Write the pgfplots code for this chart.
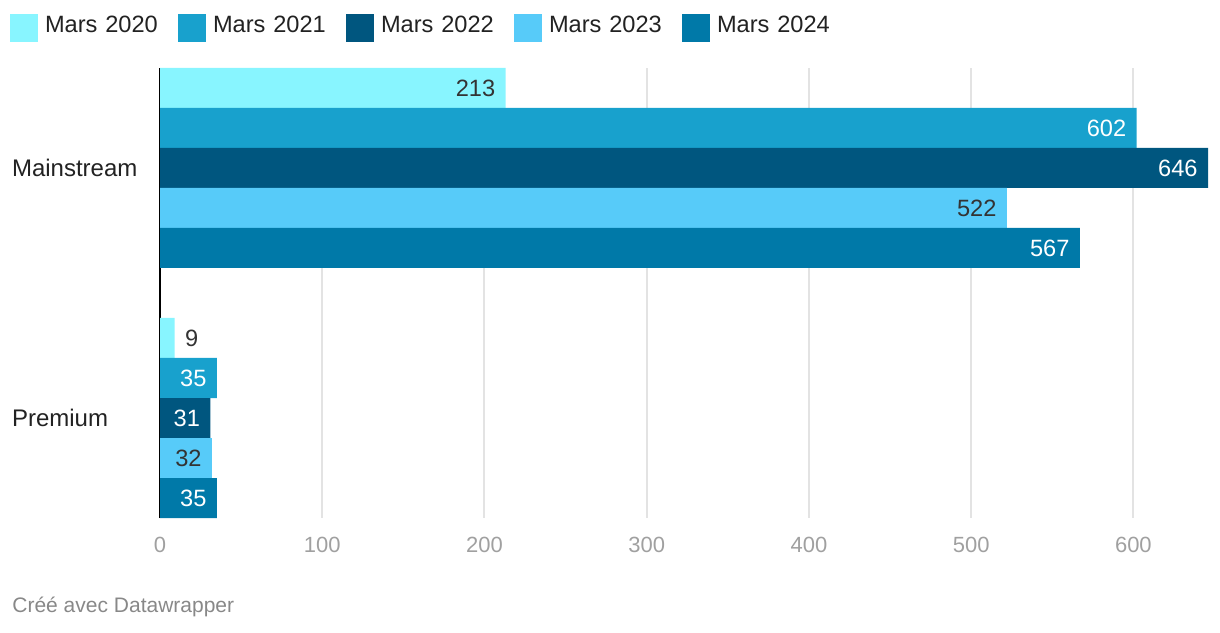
\documentclass[border=0pt]{standalone}
\usepackage{pgfplots}
\pgfplotsset{compat=1.18}
\usepackage{fontspec}
\setmainfont{Liberation Sans}

\definecolor{c20}{HTML}{88F5FF}
\definecolor{c21}{HTML}{18A1CD}
\definecolor{c22}{HTML}{00567F}
\definecolor{c23}{HTML}{57CBF9}
\definecolor{c24}{HTML}{0079A8}
\definecolor{txt}{HTML}{222222}
\definecolor{lbl}{HTML}{333333}
\definecolor{tickc}{HTML}{A0A0A0}
\definecolor{gridc}{HTML}{E3E3E3}
\definecolor{foot}{HTML}{888888}

\newcommand{\fnt}{\fontsize{11.8}{14}\selectfont}

\begin{document}
\begin{tikzpicture}
\begin{axis}[
  at={(80pt,57pt)}, anchor=south west,
  scale only axis, width=524pt, height=225pt,
  xbar=0pt, bar width=20pt,
  xmin=0, xmax=646, ymin=-0.4, ymax=1.4,
  ytick={0,1}, yticklabels={Premium,Mainstream},
  xtick={0,100,...,600},
  axis lines*=left,
  x axis line style={draw=none},
  y axis line style={black, line width=1pt},
  major tick length=0pt,
  xmajorgrids, grid style={draw=gridc, line width=1pt},
  /pgf/number format/assume math mode=true,
  xticklabel style={font=\fontsize{11}{13}\selectfont, text=tickc, anchor=center, yshift=-13.5pt},
  yticklabel style={font=\fontsize{12}{14}\selectfont, text=txt, anchor=west, xshift=-77.5pt},
  nodes near coords,
  nodes near coords style={font=\fnt, anchor=east, xshift=-5pt, inner sep=0pt},
  every axis plot post/.append style={
    legend image code/.code={\fill[##1] (0pt,-8pt) rectangle (14pt,6pt);}},
  legend columns=5,
  legend style={at={(-0.1431,1.0889)}, anchor=west, draw=none, fill=none,
    inner sep=0pt, outer sep=0pt, font=\fnt, text=txt,
    nodes={inner sep=0pt, text width=66.5pt, align=left},
    /tikz/every odd column/.append style={column sep=3.5pt}},
  legend cell align=left,
]
% Mars 2020
\addplot[fill=c20, draw=none, bar shift=40pt,
  nodes near coords style={text=lbl, anchor=\anc, xshift=\dx pt},
  visualization depends on={value \thisrow{anc} \as \anc},
  visualization depends on={\thisrow{dx} \as \dx}]
  table[x=v, y=c, meta=v] {
c v anc dx
1 213 east 0
0 9 west 10
};
% Mars 2021
\addplot[fill=c21, draw=none, bar shift=20pt, nodes near coords style={text=white}]
  coordinates {(602,1) (35,0)};
% Mars 2022
\addplot[fill=c22, draw=none, bar shift=0pt, nodes near coords style={text=white}]
  coordinates {(646,1) (31,0)};
% Mars 2023
\addplot[fill=c23, draw=none, bar shift=-20pt, nodes near coords style={text=lbl}]
  coordinates {(522,1) (32,0)};
% Mars 2024
\addplot[fill=c24, draw=none, bar shift=-40pt, nodes near coords style={text=white}]
  coordinates {(567,1) (35,0)};
\legend{Mars 2020, Mars 2021, Mars 2022, Mars 2023, Mars 2024}
\end{axis}
\node[anchor=west, inner sep=0pt, text=foot, font=\fontsize{10.5}{12}\selectfont] at (6pt,12.5pt) {Créé avec Datawrapper};
\pgfresetboundingbox
\path[use as bounding box] (0,0) rectangle (610pt,316pt);
\end{tikzpicture}
\end{document}
